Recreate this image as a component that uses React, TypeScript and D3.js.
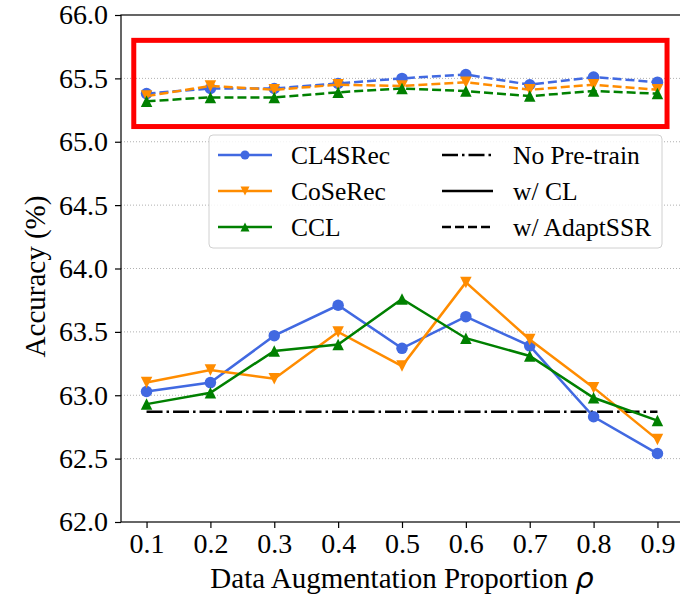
import React, { useRef, useEffect } from 'react';
import * as d3 from 'd3';

// data augmentation proportion rho
const proportions = [0.1, 0.2, 0.3, 0.4, 0.5, 0.6, 0.7, 0.8, 0.9];

// w/ CL (solid)
const cl4srecCL = [63.03, 63.10, 63.47, 63.71, 63.37, 63.62, 63.39, 62.83, 62.54];
const coserecCL = [63.10, 63.20, 63.13, 63.50, 63.23, 63.89, 63.44, 63.06, 62.65];
const cclCL = [62.93, 63.02, 63.35, 63.40, 63.76, 63.45, 63.31, 62.98, 62.80];

// w/ AdaptSSR (dashed)
const cl4srecAdapt = [65.38, 65.42, 65.42, 65.46, 65.50, 65.53, 65.45, 65.51, 65.47];
const coserecAdapt = [65.36, 65.44, 65.41, 65.45, 65.44, 65.47, 65.41, 65.45, 65.41];
const cclAdapt = [65.32, 65.35, 65.35, 65.39, 65.42, 65.40, 65.36, 65.40, 65.38];

// no pre-train baseline
const noPretrain = 62.87;

const yTicks = [62.0, 62.5, 63.0, 63.5, 64.0, 64.5, 65.0, 65.5, 66.0];

// highlight box (data units)
const highlightX = [0.08, 0.915];
const highlightY = [65.12, 65.8];

const FONT = '"Liberation Serif", "Times New Roman", serif';

// matplotlib-like markers
const triUp = {
  draw(ctx: any, size: number) {
    const h = size / 2;
    ctx.moveTo(0, -h);
    ctx.lineTo(-h, h);
    ctx.lineTo(h, h);
    ctx.closePath();
  },
};
const triDown = {
  draw(ctx: any, size: number) {
    const h = size / 2;
    ctx.moveTo(0, h);
    ctx.lineTo(-h, -h);
    ctx.lineTo(h, -h);
    ctx.closePath();
  },
};
const circ = {
  draw(ctx: any, size: number) {
    const r = size / 2;
    ctx.moveTo(r, 0);
    ctx.arc(0, 0, r, 0, 2 * Math.PI);
  },
};

const methods = [
  { name: 'CL4SRec', color: '#4169E1', symbol: circ, cl: cl4srecCL, adapt: cl4srecAdapt },
  { name: 'CoSeRec', color: '#FF8C00', symbol: triDown, cl: coserecCL, adapt: coserecAdapt },
  { name: 'CCL', color: '#008000', symbol: triUp, cl: cclCL, adapt: cclAdapt },
];

const styles = [
  { name: 'No Pre-train', dash: '16,4,2.5,4' },
  { name: 'w/ CL', dash: null },
  { name: 'w/ AdaptSSR', dash: '9,4' },
];

const App = () => {
  const svgRef = useRef<SVGSVGElement>(null);

  useEffect(() => {
    const svg = d3.select(svgRef.current);
    svg.selectAll('*').remove();

    const left = 121, top = 15, right = 683, bottom = 522;

    const x = d3.scaleLinear().domain([0.06, 0.94]).range([left, right]);
    const y = d3.scaleLinear().domain([62, 66]).range([bottom, top]);

    // grid
    svg.append('g')
      .selectAll('line')
      .data(yTicks.slice(1, -1))
      .enter()
      .append('line')
      .attr('x1', left)
      .attr('x2', right)
      .attr('y1', d => y(d))
      .attr('y2', d => y(d))
      .attr('stroke', '#b0b0b0')
      .attr('stroke-width', 1)
      .attr('stroke-dasharray', '1,2');

    const line = d3.line<number>()
      .x((_, i) => x(proportions[i]))
      .y(d => y(d));

    // baseline
    svg.append('line')
      .attr('x1', x(proportions[0]))
      .attr('x2', x(proportions[proportions.length - 1]))
      .attr('y1', y(noPretrain))
      .attr('y2', y(noPretrain))
      .attr('stroke', 'black')
      .attr('stroke-width', 2.5)
      .attr('stroke-dasharray', styles[0].dash);

    methods.forEach(m => {
      [{ vals: m.cl, dash: null }, { vals: m.adapt, dash: styles[2].dash }].forEach(s => {
        svg.append('path')
          .datum(s.vals)
          .attr('d', line)
          .attr('fill', 'none')
          .attr('stroke', m.color)
          .attr('stroke-width', 2.5)
          .attr('stroke-dasharray', s.dash);
        svg.append('g')
          .selectAll('path')
          .data(s.vals)
          .enter()
          .append('path')
          .attr('transform', (d, i) => `translate(${x(proportions[i])},${y(d)})`)
          .attr('d', d3.symbol(m.symbol as any, 11.5) as any)
          .attr('fill', m.color);
      });
    });

    // highlight box
    svg.append('rect')
      .attr('x', x(highlightX[0]))
      .attr('y', y(highlightY[1]))
      .attr('width', x(highlightX[1]) - x(highlightX[0]))
      .attr('height', y(highlightY[0]) - y(highlightY[1]))
      .attr('fill', 'none')
      .attr('stroke', 'red')
      .attr('stroke-width', 5);

    // frame
    svg.append('rect')
      .attr('x', left)
      .attr('y', top)
      .attr('width', right - left)
      .attr('height', bottom - top)
      .attr('fill', 'none')
      .attr('stroke', 'black')
      .attr('stroke-width', 1.2);

    // axes
    const xAxis = svg.append('g')
      .attr('transform', `translate(0,${bottom})`)
      .call(d3.axisBottom(x).tickValues(proportions).tickFormat(d3.format('.1f')).tickSize(6).tickSizeOuter(0).tickPadding(5));
    const yAxis = svg.append('g')
      .attr('transform', `translate(${left},0)`)
      .call(d3.axisLeft(y).tickValues(yTicks).tickFormat(d3.format('.1f')).tickSize(6).tickSizeOuter(0).tickPadding(7));
    [xAxis, yAxis].forEach(a => {
      a.select('.domain').remove();
      a.selectAll('line').attr('stroke', 'black').attr('stroke-width', 1.2);
      a.selectAll('text').attr('font-family', FONT).attr('font-size', 28).attr('fill', 'black');
    });

    // axis labels
    const xl = svg.append('text')
      .attr('x', (left + right) / 2)
      .attr('y', 588)
      .attr('text-anchor', 'middle')
      .attr('font-family', FONT)
      .attr('font-size', 29);
    xl.append('tspan').text('Data Augmentation Proportion ');
    xl.append('tspan')
      .attr('font-family', '"DejaVu Sans", sans-serif')
      .attr('font-style', 'italic')
      .text('ρ');

    svg.append('text')
      .attr('transform', `translate(45,${(top + bottom) / 2 + 8}) rotate(-90)`)
      .attr('text-anchor', 'middle')
      .attr('font-family', FONT)
      .attr('font-size', 29)
      .text('Accuracy (%)');

    // legend
    const lg = svg.append('g');
    lg.append('rect')
      .attr('x', 209)
      .attr('y', 135)
      .attr('width', 453)
      .attr('height', 113)
      .attr('rx', 4)
      .attr('fill', 'white')
      .attr('fill-opacity', 0.85)
      .attr('stroke', '#d0d0d0')
      .attr('stroke-width', 1);
    const rowY = [155, 191, 227];
    methods.forEach((m, i) => {
      lg.append('line')
        .attr('x1', 218).attr('x2', 272)
        .attr('y1', rowY[i]).attr('y2', rowY[i])
        .attr('stroke', m.color).attr('stroke-width', 2.5);
      lg.append('path')
        .attr('transform', `translate(245,${rowY[i]})`)
        .attr('d', d3.symbol(m.symbol as any, 9) as any)
        .attr('fill', m.color);
      lg.append('text')
        .attr('x', 291).attr('y', rowY[i] + 9)
        .attr('font-family', FONT).attr('font-size', 25.5)
        .text(m.name);
    });
    styles.forEach((s, i) => {
      lg.append('line')
        .attr('x1', 442).attr('x2', 493)
        .attr('y1', rowY[i]).attr('y2', rowY[i])
        .attr('stroke', 'black').attr('stroke-width', 2.5)
        .attr('stroke-dasharray', s.dash);
      lg.append('text')
        .attr('x', 513).attr('y', rowY[i] + 9)
        .attr('font-family', FONT).attr('font-size', 25.5)
        .text(s.name);
    });
  }, []);

  return (
    <svg ref={svgRef} width={680} height={598} style={{ position: 'absolute', left: 0, top: 0, background: 'white' }}></svg>
  );
};

export default App;
